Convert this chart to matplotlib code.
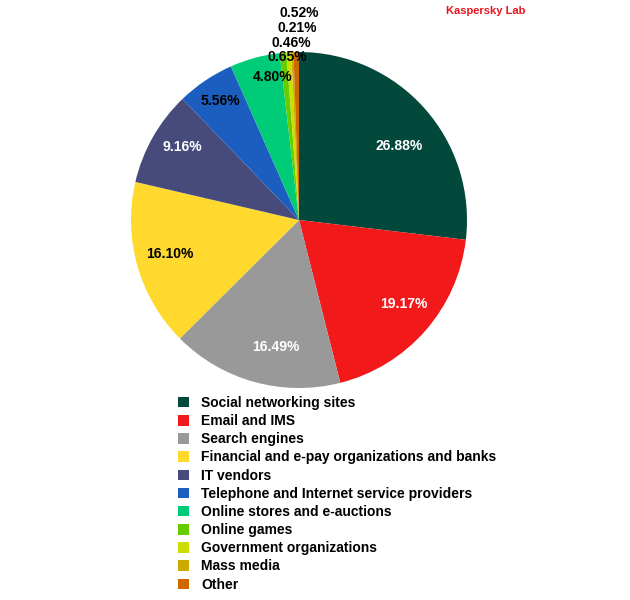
import matplotlib
matplotlib.use("Agg")
import matplotlib.pyplot as plt
from matplotlib.patches import Patch

plt.rcParams['font.family'] = ['Liberation Sans', 'DejaVu Sans']
plt.rcParams['font.weight'] = 'bold'

# %%
# Data
categories = ["Social networking sites", "Email and IMS", "Search engines",
              "Financial and e-pay organizations and banks", "IT vendors",
              "Telephone and Internet service providers",
              "Online stores and e-auctions", "Online games",
              "Government organizations", "Mass media", "Other"]
shares = [26.88, 19.17, 16.49, 16.10, 9.16, 5.56, 4.80, 0.65, 0.46, 0.21, 0.52]
colors = ["#03493b", "#f2191b", "#999999", "#ffd92e", "#474b7c", "#1b5ec0",
          "#00cc77", "#66cc00", "#ccdd00", "#ccaa00", "#cc6a00"]
label_colors = ["white", "white", "white", "black", "white", "black",
                "black", "black", "black", "black", "black"]

# %%
fig = plt.figure(figsize=(6.3, 6.0), dpi=100)
cx, cy, r = 299, 220, 168   # pie centre and radius in pixels
ax = fig.add_axes([(cx - r) / 630, (600 - cy - r) / 600, 2 * r / 630, 2 * r / 600])

wedges, texts, autotexts = ax.pie(shares, colors=colors, startangle=90,
                                  counterclock=False, autopct="%.2f%%",
                                  pctdistance=0.7,
                                  textprops=dict(fontsize=10, fontweight='bold'))
ax.set_aspect('equal')
ax.set_xlim(-1, 1)
ax.set_ylim(-1, 1)

for t, c in zip(autotexts, label_colors):
    t.set_color(c)

# label placement as in the original (small slices stacked above the pie)
label_pos = [(0.598, 0.440), (0.625, -0.500), (-0.140, -0.756), (-0.768, -0.202),
             (-0.696, 0.436), (-0.467, 0.710), (-0.155, 0.851), (-0.071, 0.970),
             (-0.048, 1.054), (-0.009, 1.143), (0.003, 1.232)]
for t, p in zip(autotexts, label_pos):
    t.set_position(p)
    t.set_clip_on(False)

# %%
handles = [Patch(facecolor=c, edgecolor='none') for c in colors]
fig.legend(handles, categories, loc='upper left',
           bbox_to_anchor=(178 / 630, 1 - 396 / 600),
           frameon=False, fontsize=10, handlelength=0.8, handleheight=0.8,
           handletextpad=0.85, labelspacing=0.3, borderpad=0, borderaxespad=0)

fig.text(446 / 630, 1 - 11 / 600, "Kaspersky Lab", color="#e8141c", fontsize=8,
         fontweight='bold', va='center', ha='left')

fig.savefig("out.png", dpi=100)
